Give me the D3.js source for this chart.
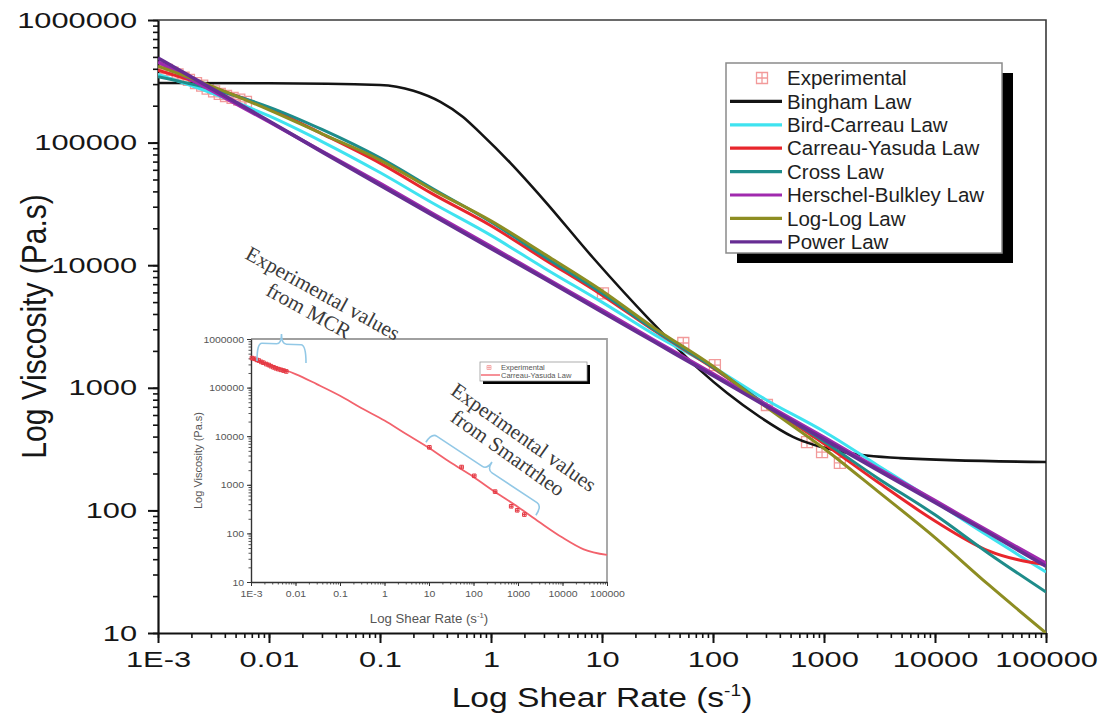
<!DOCTYPE html>
<html>
<head>
<meta charset="utf-8">
<script src="https://cdn.jsdelivr.net/npm/d3@7"></script>
<style>
  body { margin: 0; background: #fff; }
  svg { display: block; font-family: "Liberation Sans", Arial, sans-serif; }
</style>
</head>
<body>
<svg></svg>
<script>

// values (shear rate in 1/s, viscosity in Pa.s)
var shearRate = [0.001, 0.003, 0.01, 0.03, 0.1, 0.3, 1, 3, 10, 30, 100, 300, 1000, 3000, 10000, 30000, 100000];
var birdCarreau = [360000, 255000, 165000, 102000, 57000, 32000, 17500, 9500, 5000, 2700, 1480, 800, 440, 235, 118, 62, 31.5];
var carreauYasuda = [390000, 285000, 190000, 118000, 68000, 38000, 21000, 11200, 5700, 2900, 1450, 720, 350, 172, 82, 47, 36];
var crossLaw = [345000, 275000, 195000, 128000, 75000, 42000, 22500, 11800, 5900, 2950, 1470, 730, 365, 185, 92, 45, 21.6];
var herschelBulkley = [455000, 268000, 148000, 85000, 46500, 26300, 14200, 8000, 4300, 2420, 1300, 730, 395, 222, 120, 68, 37];
var logLog = [420000, 290000, 185000, 118000, 72000, 41000, 23000, 12400, 6200, 3050, 1500, 700, 320, 145, 60, 25, 10];
var powerLaw = [490000, 278000, 150000, 84000, 45000, 25500, 13700, 7800, 4150, 2350, 1260, 710, 380, 215, 116, 66, 35];

var binghamRate = [0.001, 0.01, 0.1, 0.2, 0.35, 0.56, 0.8, 1.5, 3, 8.3, 27, 76, 134, 265, 525, 1480, 4840, 100000];
var binghamVisc = [306000, 305000, 295000, 265000, 215000, 162000, 120000, 68000, 34000, 11500, 3570, 1400, 906, 578, 398, 299, 267, 248];

// experimental points: MCR (low rates) and Smartrheo (high rates)
var mcrRate = [0.00105, 0.0012, 0.00135, 0.0015, 0.0017, 0.0019, 0.0022, 0.0025, 0.0028, 0.0032, 0.0036, 0.0041, 0.0047, 0.0054, 0.0062];
var mcrVisc = [405000, 392000, 372000, 360000, 338000, 325000, 305000, 292000, 276000, 262000, 250000, 240000, 232000, 224000, 215000];
var smartRate = [10.2, 54, 104, 306, 703, 960, 1390];
var smartVisc = [5900, 2320, 1530, 724, 361, 299, 244];

var xTicks = [0.001, 0.01, 0.1, 1, 10, 100, 1000, 10000, 100000];
var xTickLabels = ["1E-3", "0.01", "0.1", "1", "10", "100", "1000", "10000", "100000"];
var yTicks = [10, 100, 1000, 10000, 100000, 1000000];
var yTickLabels = ["10", "100", "1000", "10000", "100000", "1000000"];

var seriesNames = ["Bingham Law", "Bird-Carreau Law", "Carreau-Yasuda Law", "Cross Law", "Herschel-Bulkley Law", "Log-Log Law", "Power Law"];
var seriesColors = ["#141414", "#3fe3f0", "#e8262c", "#1e8c8a", "#a02aae", "#8d8d22", "#672d93"];
var seriesWidths = [2.6, 3, 3, 3, 3.6, 3, 3.6];

var zip = function (a, b) { return a.map(function (v, i) { return [v, b[i]]; }); };
var seriesData = [
  zip(binghamRate, binghamVisc),
  zip(shearRate, birdCarreau),
  zip(shearRate, carreauYasuda),
  zip(shearRate, crossLaw),
  zip(shearRate, herschelBulkley),
  zip(shearRate, logLog),
  zip(shearRate, powerLaw)
];
var expData = zip(mcrRate, mcrVisc).concat(zip(smartRate, smartVisc));

// set the dimensions and margins of the graph
var margin = { top: 20, right: 53, bottom: 92, left: 158 },
  width = 1099 - margin.left - margin.right,
  height = 725 - margin.top - margin.bottom;

var root = d3.select("svg")
  .attr("width", width + margin.left + margin.right)
  .attr("height", height + margin.top + margin.bottom);

var svg = root.append("g")
  .attr("transform", "translate(" + margin.left + "," + margin.top + ")");

var x = d3.scaleLog().domain([1e-3, 1e5]).range([0, width]);
var y = d3.scaleLog().domain([10, 1e6]).range([height, 0]);

var markerPath = function (s) {
  return "M" + (-s) + "," + (-s) + "h" + 2 * s + "v" + 2 * s + "h" + (-2 * s) + "z" +
    "M0," + (-s) + "v" + 2 * s + "M" + (-s) + ",0h" + 2 * s;
};

// frame (top + right)
svg.append("path")
  .attr("d", "M0,0H" + width + "V" + height)
  .attr("fill", "none")
  .attr("stroke", "#3a3a3a")
  .attr("stroke-width", 1.6);

// minor ticks
svg.append("g")
  .attr("transform", "translate(0," + height + ")")
  .call(d3.axisBottom(x).ticks(10).tickSize(5).tickFormat(""))
  .call(function (g) { g.select(".domain").remove(); })
  .selectAll("line").attr("stroke", "#111").attr("stroke-width", 1.6);
svg.append("g")
  .call(d3.axisLeft(y).ticks(10).tickSize(5).tickFormat(""))
  .call(function (g) { g.select(".domain").remove(); })
  .selectAll("line").attr("stroke", "#111").attr("stroke-width", 1.6);

// major axes
var xAxis = svg.append("g")
  .attr("transform", "translate(0," + height + ")")
  .call(d3.axisBottom(x).tickValues(xTicks).tickSize(10).tickSizeOuter(0).tickPadding(8)
    .tickFormat(function (d, i) { return xTickLabels[i]; }));
var yAxis = svg.append("g")
  .call(d3.axisLeft(y).tickValues(yTicks).tickSize(10).tickSizeOuter(0)
    .tickFormat(function (d, i) { return yTickLabels[i]; }));

[xAxis, yAxis].forEach(function (ax) {
  ax.select(".domain").attr("stroke", "#111").attr("stroke-width", 2.2);
  ax.selectAll(".tick line").attr("stroke", "#111").attr("stroke-width", 2);
  ax.selectAll(".tick text")
    .attr("font-family", "Liberation Sans, Arial, sans-serif")
    .attr("font-size", 22)
    .attr("fill", "#161616")
    .attr("transform", "scale(1.4,1)");
});
yAxis.selectAll(".tick text").attr("x", -21 / 1.4);

// axis titles
var xTitle = root.append("text")
  .attr("transform", "translate(" + (margin.left + width / 2) + ",707) scale(1.2,1)")
  .attr("text-anchor", "middle")
  .attr("font-size", 28)
  .attr("fill", "#161616");
xTitle.append("tspan").text("Log Shear Rate (s");
xTitle.append("tspan").attr("font-size", 16).attr("dy", -11).text("-1");
xTitle.append("tspan").attr("dy", 11).text(")");

root.append("text")
  .attr("transform", "translate(46," + (margin.top + height / 2) + ") scale(1.15,1) rotate(-90)")
  .attr("text-anchor", "middle")
  .attr("font-size", 30)
  .attr("fill", "#161616")
  .text("Log Viscosity (Pa.s)");

// clip
svg.append("clipPath").attr("id", "plotClip")
  .append("rect").attr("width", width).attr("height", height);

var plot = svg.append("g").attr("clip-path", "url(#plotClip)");

// experimental points
plot.selectAll(".exp")
  .data(expData)
  .enter()
  .append("path")
  .attr("class", "exp")
  .attr("transform", function (d) { return "translate(" + x(d[0]) + "," + y(d[1]) + ")"; })
  .attr("d", markerPath(5.5))
  .attr("fill", "none")
  .attr("stroke", "#f29a9a")
  .attr("stroke-width", 1.3);

// model curves
var line = d3.line()
  .x(function (d) { return x(d[0]); })
  .y(function (d) { return y(d[1]); })
  .curve(d3.curveMonotoneX);

plot.selectAll(".model")
  .data(seriesData)
  .enter()
  .append("path")
  .attr("class", "model")
  .attr("d", line)
  .attr("fill", "none")
  .attr("stroke", function (d, i) { return seriesColors[i]; })
  .attr("stroke-width", function (d, i) { return seriesWidths[i]; })
  .attr("stroke-linejoin", "round");

// legend
var legend = root.append("g").attr("transform", "translate(726,63)");
legend.append("rect").attr("x", 11).attr("y", 10).attr("width", 276).attr("height", 190).attr("fill", "#000");
legend.append("rect").attr("width", 276).attr("height", 190)
  .attr("fill", "#fff").attr("stroke", "#8a8a8a").attr("stroke-width", 1.5);

var legendRows = ["Experimental"].concat(seriesNames);
legendRows.forEach(function (name, i) {
  var cy = 15 + i * 23.4;
  if (i === 0) {
    legend.append("path")
      .attr("transform", "translate(36," + cy + ")")
      .attr("d", markerPath(5.5))
      .attr("fill", "none").attr("stroke", "#f29a9a").attr("stroke-width", 1.3);
  } else {
    legend.append("line")
      .attr("x1", 4).attr("x2", 56).attr("y1", cy).attr("y2", cy)
      .attr("stroke", seriesColors[i - 1]).attr("stroke-width", 3.2);
  }
  legend.append("text")
    .attr("x", 61).attr("y", cy).attr("dy", "0.35em")
    .attr("font-size", 20.5).attr("fill", "#1e1e1e")
    .text(name);
});

// inset chart
var inset = { left: 251, top: 339, width: 356, height: 243 };
var ig = root.append("g").attr("transform", "translate(" + inset.left + "," + inset.top + ")");
var xi = d3.scaleLog().domain([1e-3, 1e5]).range([0, inset.width]);
var yi = d3.scaleLog().domain([10, 1e6]).range([inset.height, 0]);

ig.append("rect").attr("width", inset.width).attr("height", inset.height).attr("fill", "#fff");
ig.append("path")
  .attr("d", "M0,0H" + inset.width + "V" + inset.height)
  .attr("fill", "none").attr("stroke", "#a0a0a0").attr("stroke-width", 1.8);

ig.append("g").attr("transform", "translate(0," + inset.height + ")")
  .call(d3.axisBottom(xi).ticks(10).tickSize(2.5).tickFormat(""))
  .call(function (g) { g.select(".domain").remove(); })
  .selectAll("line").attr("stroke", "#555");
ig.append("g")
  .call(d3.axisLeft(yi).ticks(10).tickSize(2.5).tickFormat(""))
  .call(function (g) { g.select(".domain").remove(); })
  .selectAll("line").attr("stroke", "#555");

var xiAxis = ig.append("g").attr("transform", "translate(0," + inset.height + ")")
  .call(d3.axisBottom(xi).tickValues(xTicks).tickSize(4).tickSizeOuter(0).tickPadding(4)
    .tickFormat(function (d, i) { return xTickLabels[i]; }));
var yiAxis = ig.append("g")
  .call(d3.axisLeft(yi).tickValues(yTicks).tickSize(4).tickSizeOuter(0).tickPadding(3)
    .tickFormat(function (d, i) { return yTickLabels[i]; }));
[xiAxis, yiAxis].forEach(function (ax) {
  ax.select(".domain").attr("stroke", "#333").attr("stroke-width", 1.4);
  ax.selectAll(".tick line").attr("stroke", "#333");
  ax.selectAll(".tick text")
    .attr("font-family", "Liberation Sans, Arial, sans-serif")
    .attr("font-size", 9.5).attr("fill", "#555")
    .attr("transform", "scale(1.1,1)");
});
yiAxis.selectAll(".tick text").attr("x", -7 / 1.1);

var xiTitle = ig.append("text")
  .attr("transform", "translate(" + inset.width / 2 + ",284) scale(1.1,1)")
  .attr("text-anchor", "middle").attr("font-size", 12).attr("fill", "#555");
xiTitle.append("tspan").text("Log Shear Rate (s");
xiTitle.append("tspan").attr("font-size", 7).attr("dy", -5).text("-1");
xiTitle.append("tspan").attr("dy", 5).text(")");
ig.append("text")
  .attr("transform", "translate(-49," + inset.height / 2 + ") rotate(-90)")
  .attr("text-anchor", "middle").attr("font-size", 11).attr("fill", "#555")
  .text("Log Viscosity (Pa.s)");

var insetLine = d3.line()
  .x(function (d) { return xi(d[0]); })
  .y(function (d) { return yi(d[1]); })
  .curve(d3.curveMonotoneX);
ig.append("path")
  .datum(seriesData[2])
  .attr("d", insetLine)
  .attr("fill", "none").attr("stroke", "#f2626c").attr("stroke-width", 1.8);
ig.selectAll(".iexp")
  .data(expData)
  .enter()
  .append("path")
  .attr("class", "iexp")
  .attr("transform", function (d) { return "translate(" + xi(d[0]) + "," + yi(d[1]) + ")"; })
  .attr("d", markerPath(1.8))
  .attr("fill", "none").attr("stroke", "#e43a44").attr("stroke-width", 1);

// inset legend
var il = ig.append("g").attr("transform", "translate(229,23)");
il.append("rect").attr("x", 3).attr("y", 3).attr("width", 107).attr("height", 19).attr("fill", "#000");
il.append("rect").attr("width", 107).attr("height", 19).attr("fill", "#fff").attr("stroke", "#999").attr("stroke-width", 0.8);
il.append("path").attr("transform", "translate(9,5.5)").attr("d", markerPath(2))
  .attr("fill", "none").attr("stroke", "#f29a9a").attr("stroke-width", 0.8);
il.append("text").attr("x", 21).attr("y", 5.5).attr("dy", "0.35em").attr("font-size", 7.5).attr("fill", "#555").text("Experimental");
il.append("line").attr("x1", 1).attr("x2", 20).attr("y1", 13).attr("y2", 13).attr("stroke", "#f2626c").attr("stroke-width", 1.4);
il.append("text").attr("x", 21).attr("y", 13).attr("dy", "0.35em").attr("font-size", 7.5).attr("fill", "#555").text("Carreau-Yasuda Law");

// annotations
var brace = function (a1, a2, n, h, c, r) {
  var ux = a2[0] - a1[0], uy = a2[1] - a1[1], len = Math.sqrt(ux * ux + uy * uy);
  ux /= len; uy /= len;
  var p1 = [a1[0] - n[0] * h, a1[1] - n[1] * h], p2 = [a2[0] - n[0] * h, a2[1] - n[1] * h];
  var m = [(a1[0] + a2[0]) / 2, (a1[1] + a2[1]) / 2];
  var tip = [m[0] + n[0] * c, m[1] + n[1] * c];
  var pt = function (p) { return p[0].toFixed(1) + "," + p[1].toFixed(1); };
  return "M" + pt(p1) + "Q" + pt(a1) + " " + pt([a1[0] + ux * r, a1[1] + uy * r]) +
    "L" + pt([m[0] - ux * r, m[1] - uy * r]) + "Q" + pt(m) + " " + pt(tip) +
    "Q" + pt(m) + " " + pt([m[0] + ux * r, m[1] + uy * r]) +
    "L" + pt([a2[0] - ux * r, a2[1] - uy * r]) + "Q" + pt(a2) + " " + pt(p2);
};

root.append("path")
  .attr("d", brace([257, 343], [306, 345], [0, -1], 18, 10, 5))
  .attr("fill", "none").attr("stroke", "#92c8e6").attr("stroke-width", 1.6);
root.append("path")
  .attr("d", brace([432, 433], [542, 506], [0.553, -0.833], 11, 9, 6))
  .attr("fill", "none").attr("stroke", "#92c8e6").attr("stroke-width", 1.6);

var note = function (cx, cy, angle, lines) {
  var g = root.append("g").attr("transform", "translate(" + cx + "," + cy + ") rotate(" + angle + ")");
  lines.forEach(function (t, i) {
    g.append("text")
      .attr("x", i === 0 ? 0 : -4).attr("y", i * 22).attr("dy", "0.35em")
      .attr("text-anchor", "middle")
      .attr("font-family", "Liberation Serif, Times New Roman, serif")
      .attr("font-size", 21).attr("fill", "#3a3a3a")
      .text(t);
  });
};
note(323, 293, 28.8, ["Experimental values", "from MCR"]);
note(524, 437, 35.2, ["Experimental values", "from Smartrheo"]);

</script>
</body>
</html>
